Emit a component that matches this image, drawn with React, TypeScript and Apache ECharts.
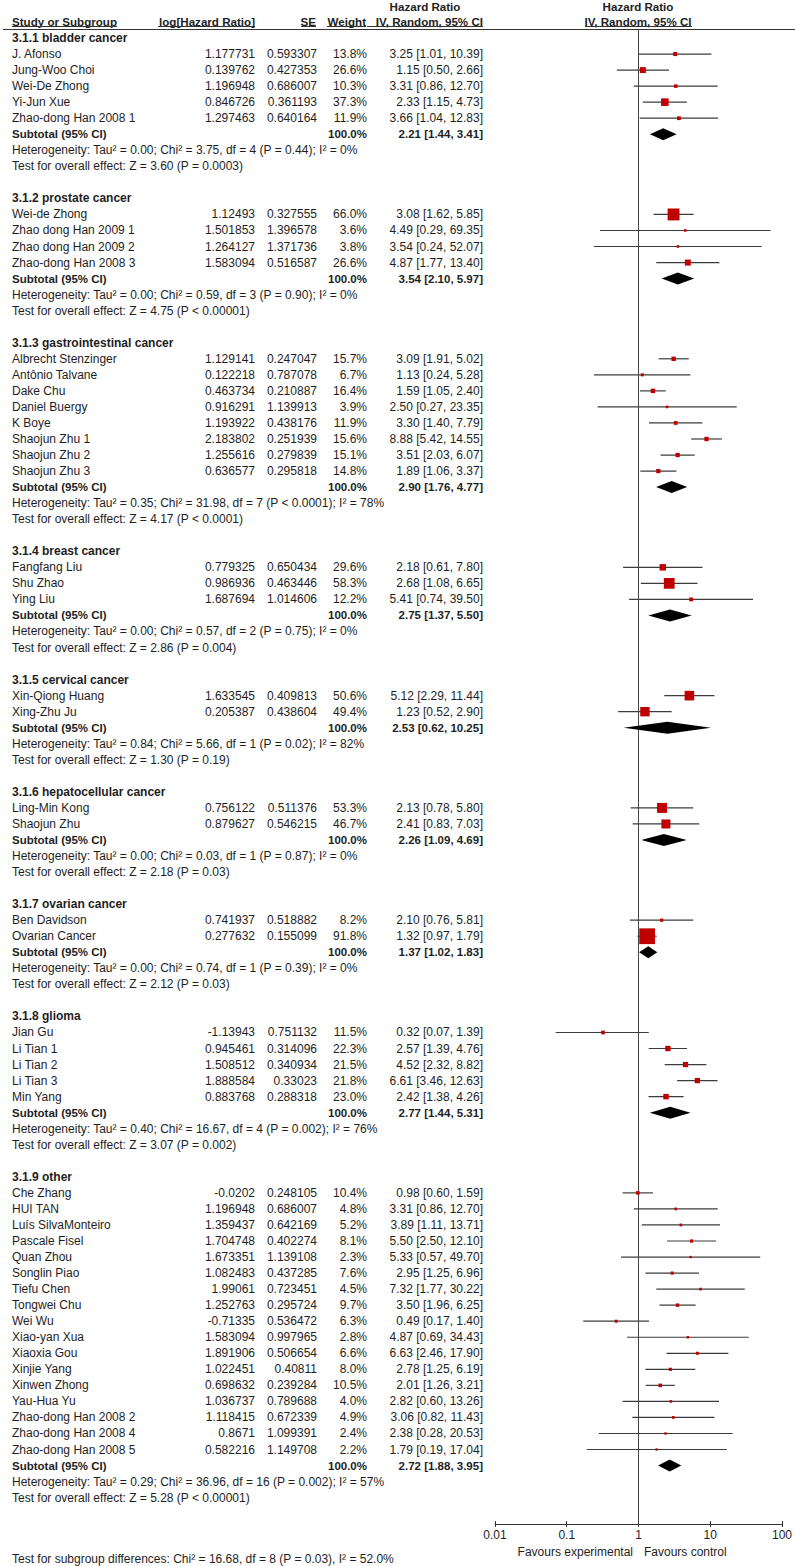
import React, { useEffect, useRef } from "react";
import * as echarts from "echarts";

// ---- data ----
// study tuple: [name, logHR, SE, weight %, HR, lower, upper]
type Study = [string, number, number, number, number, number, number];

const groupNames = [
  "3.1.1 bladder cancer",
  "3.1.2 prostate cancer",
  "3.1.3 gastrointestinal cancer",
  "3.1.4 breast cancer",
  "3.1.5 cervical cancer",
  "3.1.6 hepatocellular cancer",
  "3.1.7 ovarian cancer",
  "3.1.8 glioma",
  "3.1.9 other",
];

const bladderStudies: Study[] = [
  ["J. Afonso", 1.177731, 0.593307, 13.8, 3.25, 1.01, 10.39],
  ["Jung-Woo Choi", 0.139762, 0.427353, 26.6, 1.15, 0.5, 2.66],
  ["Wei-De Zhong", 1.196948, 0.686007, 10.3, 3.31, 0.86, 12.7],
  ["Yi-Jun Xue", 0.846726, 0.361193, 37.3, 2.33, 1.15, 4.73],
  ["Zhao-dong Han 2008 1", 1.297463, 0.640164, 11.9, 3.66, 1.04, 12.83],
];
const prostateStudies: Study[] = [
  ["Wei-de Zhong", 1.12493, 0.327555, 66.0, 3.08, 1.62, 5.85],
  ["Zhao dong Han 2009 1", 1.501853, 1.396578, 3.6, 4.49, 0.29, 69.35],
  ["Zhao dong Han 2009 2", 1.264127, 1.371736, 3.8, 3.54, 0.24, 52.07],
  ["Zhao-dong Han 2008 3", 1.583094, 0.516587, 26.6, 4.87, 1.77, 13.4],
];
const giStudies: Study[] = [
  ["Albrecht Stenzinger", 1.129141, 0.247047, 15.7, 3.09, 1.91, 5.02],
  ["Antônio Talvane", 0.122218, 0.787078, 6.7, 1.13, 0.24, 5.28],
  ["Dake Chu", 0.463734, 0.210887, 16.4, 1.59, 1.05, 2.4],
  ["Daniel Buergy", 0.916291, 1.139913, 3.9, 2.5, 0.27, 23.35],
  ["K Boye", 1.193922, 0.438176, 11.9, 3.3, 1.4, 7.79],
  ["Shaojun Zhu 1", 2.183802, 0.251939, 15.6, 8.88, 5.42, 14.55],
  ["Shaojun Zhu 2", 1.255616, 0.279839, 15.1, 3.51, 2.03, 6.07],
  ["Shaojun Zhu 3", 0.636577, 0.295818, 14.8, 1.89, 1.06, 3.37],
];
const breastStudies: Study[] = [
  ["Fangfang Liu", 0.779325, 0.650434, 29.6, 2.18, 0.61, 7.8],
  ["Shu Zhao", 0.986936, 0.463446, 58.3, 2.68, 1.08, 6.65],
  ["Ying Liu", 1.687694, 1.014606, 12.2, 5.41, 0.74, 39.5],
];
const cervicalStudies: Study[] = [
  ["Xin-Qiong Huang", 1.633545, 0.409813, 50.6, 5.12, 2.29, 11.44],
  ["Xing-Zhu Ju", 0.205387, 0.438604, 49.4, 1.23, 0.52, 2.9],
];
const hepatoStudies: Study[] = [
  ["Ling-Min Kong", 0.756122, 0.511376, 53.3, 2.13, 0.78, 5.8],
  ["Shaojun Zhu", 0.879627, 0.546215, 46.7, 2.41, 0.83, 7.03],
];
const ovarianStudies: Study[] = [
  ["Ben Davidson", 0.741937, 0.518882, 8.2, 2.1, 0.76, 5.81],
  ["Ovarian Cancer", 0.277632, 0.155099, 91.8, 1.32, 0.97, 1.79],
];
const gliomaStudies: Study[] = [
  ["Jian Gu", -1.13943, 0.751132, 11.5, 0.32, 0.07, 1.39],
  ["Li Tian 1", 0.945461, 0.314096, 22.3, 2.57, 1.39, 4.76],
  ["Li Tian 2", 1.508512, 0.340934, 21.5, 4.52, 2.32, 8.82],
  ["Li Tian 3", 1.888584, 0.33023, 21.8, 6.61, 3.46, 12.63],
  ["Min Yang", 0.883768, 0.288318, 23.0, 2.42, 1.38, 4.26],
];
const otherStudies: Study[] = [
  ["Che Zhang", -0.0202, 0.248105, 10.4, 0.98, 0.6, 1.59],
  ["HUI TAN", 1.196948, 0.686007, 4.8, 3.31, 0.86, 12.7],
  ["Luís SilvaMonteiro", 1.359437, 0.642169, 5.2, 3.89, 1.11, 13.71],
  ["Pascale Fisel", 1.704748, 0.402274, 8.1, 5.5, 2.5, 12.1],
  ["Quan Zhou", 1.673351, 1.139108, 2.3, 5.33, 0.57, 49.7],
  ["Songlin Piao", 1.082483, 0.437285, 7.6, 2.95, 1.25, 6.96],
  ["Tiefu Chen", 1.99061, 0.723451, 4.5, 7.32, 1.77, 30.22],
  ["Tongwei Chu", 1.252763, 0.295724, 9.7, 3.5, 1.96, 6.25],
  ["Wei Wu", -0.71335, 0.536472, 6.3, 0.49, 0.17, 1.4],
  ["Xiao-yan Xua", 1.583094, 0.997965, 2.8, 4.87, 0.69, 34.43],
  ["Xiaoxia Gou", 1.891906, 0.506654, 6.6, 6.63, 2.46, 17.9],
  ["Xinjie Yang", 1.022451, 0.40811, 8.0, 2.78, 1.25, 6.19],
  ["Xinwen Zhong", 0.698632, 0.239284, 10.5, 2.01, 1.26, 3.21],
  ["Yau-Hua Yu", 1.036737, 0.789688, 4.0, 2.82, 0.6, 13.26],
  ["Zhao-dong Han 2008 2", 1.118415, 0.672339, 4.9, 3.06, 0.82, 11.43],
  ["Zhao-dong Han 2008 4", 0.8671, 1.099391, 2.4, 2.38, 0.28, 20.53],
  ["Zhao-dong Han 2008 5", 0.582216, 1.149708, 2.2, 1.79, 0.19, 17.04],
];

const groupStudies: Study[][] = [
  bladderStudies, prostateStudies, giStudies, breastStudies, cervicalStudies,
  hepatoStudies, ovarianStudies, gliomaStudies, otherStudies,
];

// subtotal: [HR, lower, upper]
const groupSubtotals: [number, number, number][] = [
  [2.21, 1.44, 3.41],
  [3.54, 2.1, 5.97],
  [2.9, 1.76, 4.77],
  [2.75, 1.37, 5.5],
  [2.53, 0.62, 10.25],
  [2.26, 1.09, 4.69],
  [1.37, 1.02, 1.83],
  [2.77, 1.44, 5.31],
  [2.72, 1.88, 3.95],
];

const groupHeterogeneity = [
  "Heterogeneity: Tau² = 0.00; Chi² = 3.75, df = 4 (P = 0.44); I² = 0%",
  "Heterogeneity: Tau² = 0.00; Chi² = 0.59, df = 3 (P = 0.90); I² = 0%",
  "Heterogeneity: Tau² = 0.35; Chi² = 31.98, df = 7 (P < 0.0001); I² = 78%",
  "Heterogeneity: Tau² = 0.00; Chi² = 0.57, df = 2 (P = 0.75); I² = 0%",
  "Heterogeneity: Tau² = 0.84; Chi² = 5.66, df = 1 (P = 0.02); I² = 82%",
  "Heterogeneity: Tau² = 0.00; Chi² = 0.03, df = 1 (P = 0.87); I² = 0%",
  "Heterogeneity: Tau² = 0.00; Chi² = 0.74, df = 1 (P = 0.39); I² = 0%",
  "Heterogeneity: Tau² = 0.40; Chi² = 16.67, df = 4 (P = 0.002); I² = 76%",
  "Heterogeneity: Tau² = 0.29; Chi² = 36.96, df = 16 (P = 0.002); I² = 57%",
];

const groupOverallTests = [
  "Test for overall effect: Z = 3.60 (P = 0.0003)",
  "Test for overall effect: Z = 4.75 (P < 0.00001)",
  "Test for overall effect: Z = 4.17 (P < 0.0001)",
  "Test for overall effect: Z = 2.86 (P = 0.004)",
  "Test for overall effect: Z = 1.30 (P = 0.19)",
  "Test for overall effect: Z = 2.18 (P = 0.03)",
  "Test for overall effect: Z = 2.12 (P = 0.03)",
  "Test for overall effect: Z = 3.07 (P = 0.002)",
  "Test for overall effect: Z = 5.28 (P < 0.00001)",
];

const xTickValues = [0.01, 0.1, 1, 10, 100];
const subgroupDifferences =
  "Test for subgroup differences: Chi² = 16.68, df = 8 (P = 0.03), I² = 52.0%";
const favoursLeft = "Favours experimental";
const favoursRight = "Favours control";

// ---- layout ----
const W = 795;
const H = 1566;
const GRID_TOP = 29;
const GRID_BOTTOM_Y = 1524;
const GRID_LEFT = 495;
const GRID_RIGHT_X = 783;
const ROW0 = 38;
const PITCH = 16.04;
const Y_MIN = (GRID_TOP - ROW0) / PITCH;
const Y_MAX = (GRID_BOTTOM_Y - ROW0) / PITCH;
const rowY = (i: number) =>
  GRID_TOP + ((i - Y_MIN) * (GRID_BOTTOM_Y - GRID_TOP)) / (Y_MAX - Y_MIN);

const FONT = '"Liberation Sans", Arial, sans-serif';
const TXT = "#1e1e1e";

const ciText = (hr: number, lo: number, hi: number) =>
  `${hr.toFixed(2)} [${lo.toFixed(2)}, ${hi.toFixed(2)}]`;

export default function App() {
  const ref = useRef<HTMLDivElement>(null);

  useEffect(() => {
    if (!ref.current) return;
    const chart = echarts.init(ref.current, null, { renderer: "svg" });

    const graphics: any[] = [];
    const text = (
      s: string,
      x: number,
      y: number,
      align: "left" | "right" | "center" = "left",
      bold = false,
      size = 12
    ) => {
      graphics.push({
        type: "text",
        silent: true,
        style: {
          text: s,
          x,
          y,
          align,
          verticalAlign: "middle",
          fontFamily: FONT,
          fontSize: size,
          fontWeight: bold ? "bold" : "normal",
          fill: TXT,
        },
      });
    };
    const hline = (x1: number, x2: number, y: number) => {
      graphics.push({
        type: "line",
        silent: true,
        shape: { x1, y1: y, x2, y2: y },
        style: { stroke: "#333", lineWidth: 1 },
      });
    };

    // header
    const HS = 11.6;
    text("Hazard Ratio", 425, 6, "center", true, HS);
    text("Hazard Ratio", 638, 6, "center", true, HS);
    text("Study or Subgroup", 12, 21, "left", true, HS);
    text("log[Hazard Ratio]", 255, 21, "right", true, HS);
    text("SE", 316, 21, "right", true, HS);
    text("Weight", 366, 21, "right", true, HS);
    text("IV, Random, 95% CI", 483, 21, "right", true, HS);
    text("IV, Random, 95% CI", 638, 21, "center", true, HS);
    hline(12, 117, 26.5);
    hline(158, 255, 26.5);
    hline(301, 316, 26.5);
    hline(327, 366, 26.5);
    hline(367, 483, 26.5);
    hline(585, 692, 26.5);
    hline(3, W, 29.5);

    // rows
    const markData: number[][] = [];
    let idx = 0;
    groupNames.forEach((g, gi) => {
      text(g, 12, rowY(idx), "left", true);
      idx++;
      groupStudies[gi].forEach((s) => {
        const [name, lhr, se, w, hr, lo, hi] = s;
        const y = rowY(idx);
        text(name, 12, y);
        text(String(lhr), 255, y, "right");
        text(String(se), 317, y, "right");
        text(w.toFixed(1) + "%", 367, y, "right");
        text(ciText(hr, lo, hi), 483, y, "right");
        markData.push([idx, hr, lo, hi, w, 0]);
        idx++;
      });
      const [shr, slo, shi] = groupSubtotals[gi];
      const ys = rowY(idx);
      text("Subtotal (95% CI)", 12, ys, "left", true, 11.5);
      text("100.0%", 367, ys, "right", true, 11.5);
      text(ciText(shr, slo, shi), 483, ys, "right", true, 11.5);
      markData.push([idx, shr, slo, shi, 100, 1]);
      idx++;
      text(groupHeterogeneity[gi], 12, rowY(idx));
      idx++;
      text(groupOverallTests[gi], 12, rowY(idx));
      idx++;
      idx++; // blank row
    });

    text(favoursLeft, 633, 1552, "right");
    text(favoursRight, 644, 1552, "left");
    text(subgroupDifferences, 12, 1558.5, "left");

    const fmt = (v: number) => String(parseFloat(Number(v).toPrecision(3)));

    const baseX = {
      type: "log",
      logBase: 10,
      min: xTickValues[0],
      max: xTickValues[xTickValues.length - 1],
      interval: 1,
      position: "bottom",
      splitLine: { show: false },
    };

    chart.setOption({
      animation: false,
      grid: {
        left: GRID_LEFT,
        right: W - GRID_RIGHT_X,
        top: GRID_TOP,
        bottom: H - GRID_BOTTOM_Y,
        containLabel: false,
      },
      xAxis: [
        {
          ...baseX,
          axisLine: { show: true, onZero: false, lineStyle: { color: "#333", width: 1 } },
          axisTick: { show: true, length: 3, lineStyle: { color: "#333" } },
          axisLabel: {
            color: TXT,
            fontFamily: FONT,
            fontSize: 12,
            margin: 5,
            formatter: (v: number) => fmt(v),
          },
        },
        {
          ...baseX,
          axisLine: { show: false, onZero: false },
          axisTick: { show: true, inside: true, length: 3, lineStyle: { color: "#333" } },
          axisLabel: { show: false },
        },
      ],
      yAxis: {
        type: "value",
        inverse: true,
        min: Y_MIN,
        max: Y_MAX,
        show: false,
      },
      graphic: graphics,
      series: [
        {
          type: "line",
          xAxisIndex: 0,
          data: [
            [1, Y_MIN],
            [1, Y_MAX],
          ],
          symbol: "none",
          lineStyle: { color: "#444", width: 1 },
          silent: true,
          z: 1,
        },
        {
          type: "custom",
          xAxisIndex: 0,
          encode: { x: [1, 2, 3], y: 0 },
          data: markData,
          clip: false,
          z: 3,
          renderItem: (_params: any, api: any) => {
            const i = api.value(0);
            const hr = api.value(1);
            const lo = api.value(2);
            const hi = api.value(3);
            const w = api.value(4);
            const t = api.value(5);
            const pL = api.coord([lo, i]);
            const pH = api.coord([hi, i]);
            const pC = api.coord([hr, i]);
            if (t === 0) {
              const s = 2 + 0.15 * w;
              return {
                type: "group",
                children: [
                  {
                    type: "line",
                    shape: { x1: pL[0], y1: pL[1], x2: pH[0], y2: pH[1] },
                    style: { stroke: "#3c3c3c", lineWidth: 1.2 },
                  },
                  {
                    type: "rect",
                    shape: { x: pC[0] - s / 2, y: pC[1] - s / 2, width: s, height: s },
                    style: { fill: "#c00000" },
                  },
                ],
              };
            }
            return {
              type: "polygon",
              shape: {
                points: [
                  [pL[0], pL[1]],
                  [pC[0], pC[1] - 6],
                  [pH[0], pH[1]],
                  [pC[0], pC[1] + 6],
                ],
              },
              style: { fill: "#000" },
            };
          },
        },
      ],
    });

    return () => chart.dispose();
  }, []);

  return (
    <div
      ref={ref}
      style={{ position: "absolute", left: 0, top: 0, width: W, height: H, background: "#fff" }}
    />
  );
}
